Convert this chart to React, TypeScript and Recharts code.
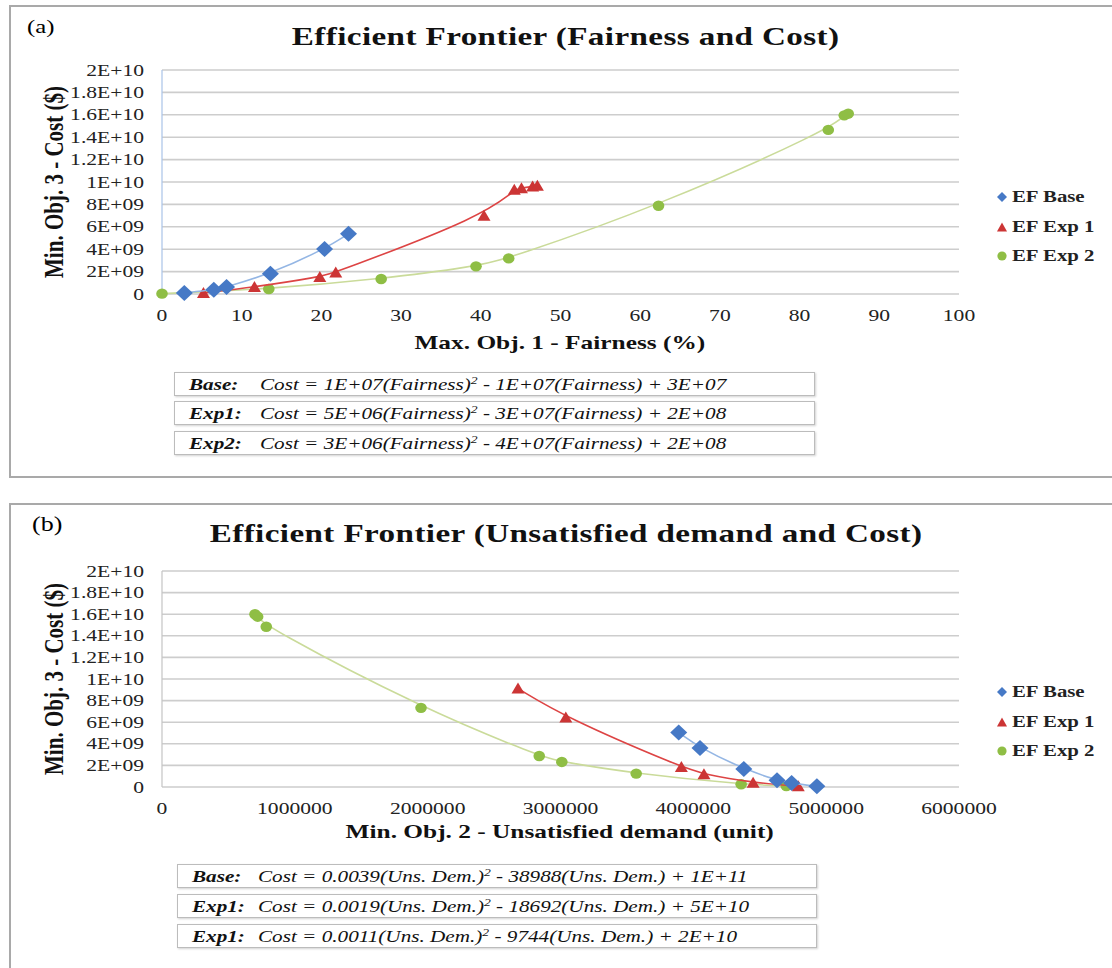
import React from "react";
import { ScatterChart, Scatter, XAxis, YAxis, CartesianGrid } from "recharts";

// ---------- DATA ----------
// (a) Fairness (%) vs Cost ($)
const baseFairness = [2.8, 6.5, 8.1, 13.6, 20.4, 23.4];
const baseFairCost = [0.09e9, 0.39e9, 0.62e9, 1.81e9, 4.01e9, 5.38e9];
const exp1Fairness = [5.2, 11.6, 19.8, 21.8, 40.4, 44.2, 45.1, 46.5, 47.1];
const exp1FairCost = [0.09e9, 0.62e9, 1.52e9, 1.93e9, 6.98e9, 9.3e9, 9.45e9, 9.6e9, 9.66e9];
const exp2Fairness = [0, 13.4, 27.5, 39.4, 43.5, 62.3, 83.6, 85.6, 86.1];
const exp2FairCost = [0.03e9, 0.45e9, 1.34e9, 2.47e9, 3.18e9, 7.88e9, 14.65e9, 15.95e9, 16.1e9];

// (b) Unsatisfied demand (unit) vs Cost ($)
const baseUnsat = [3890000, 4050000, 4380000, 4630000, 4740000, 4930000];
const baseUnsatCost = [5.04e9, 3.62e9, 1.67e9, 0.62e9, 0.37e9, 0.06e9];
const exp1Unsat = [2680000, 3040000, 3910000, 4080000, 4450000, 4790000];
const exp1UnsatCost = [9.12e9, 6.43e9, 1.85e9, 1.17e9, 0.4e9, 0.06e9];
const exp2Unsat = [700000, 720000, 785000, 1950000, 2840000, 3010000, 3570000, 4360000, 4700000];
const exp2UnsatCost = [16.0e9, 15.77e9, 14.84e9, 7.33e9, 2.87e9, 2.32e9, 1.24e9, 0.25e9, 0.09e9];

// ticks
const costTicks = [0, 2e9, 4e9, 6e9, 8e9, 1e10, 1.2e10, 1.4e10, 1.6e10, 1.8e10, 2e10];
const costTickLabels = ["0", "2E+09", "4E+09", "6E+09", "8E+09", "1E+10", "1.2E+10", "1.4E+10", "1.6E+10", "1.8E+10", "2E+10"];
const fairTicks = [0, 10, 20, 30, 40, 50, 60, 70, 80, 90, 100];
const fairTickLabels = ["0", "10", "20", "30", "40", "50", "60", "70", "80", "90", "100"];
const unsatTicks = [0, 1000000, 2000000, 3000000, 4000000, 5000000, 6000000];
const unsatTickLabels = ["0", "1000000", "2000000", "3000000", "4000000", "5000000", "6000000"];

const seriesNames = ["EF Base", "EF Exp 1", "EF Exp 2"];

const fairEquations = [
  { label: "Base:", text: "Cost = 1E+07(Fairness)", rest: " - 1E+07(Fairness) + 3E+07" },
  { label: "Exp1:", text: "Cost = 5E+06(Fairness)", rest: " - 3E+07(Fairness) + 2E+08" },
  { label: "Exp2:", text: "Cost = 3E+06(Fairness)", rest: " - 4E+07(Fairness) + 2E+08" },
];
const unsatEquations = [
  { label: "Base:", text: "Cost = 0.0039(Uns. Dem.)", rest: " - 38988(Uns. Dem.) + 1E+11" },
  { label: "Exp1:", text: "Cost = 0.0019(Uns. Dem.)", rest: " - 18692(Uns. Dem.) + 5E+10" },
  { label: "Exp1:", text: "Cost = 0.0011(Uns. Dem.)", rest: " -  9744(Uns. Dem.) + 2E+10" },
];

// ---------- STYLE ----------
const FONT = '"Liberation Serif", "Times New Roman", Times, serif';
const S = 1.3; // horizontal stretch of text in the reference
const BLUE = "#4679C6";
const RED = "#CC3535";
const GREEN = "#8FBE45";
const BLUE_T = "#94B6E4";
const RED_T = "#DD4444";
const GREEN_T = "#CADB9A";

const zip = (xs: number[], ys: number[]) => xs.map((x, i) => ({ x, y: ys[i] }));

const Diamond = (p: any) => {
  const { cx, cy } = p;
  if (cx == null || cy == null) return null;
  return <path d={`M${cx},${cy - 8} L${cx + 8.5},${cy} L${cx},${cy + 8} L${cx - 8.5},${cy} Z`} fill={BLUE} />;
};
const Triangle = (p: any) => {
  const { cx, cy } = p;
  if (cx == null || cy == null) return null;
  return <path d={`M${cx},${cy - 6} L${cx + 6.5},${cy + 5} L${cx - 6.5},${cy + 5} Z`} fill={RED} />;
};
const Dot = (p: any) => {
  const { cx, cy } = p;
  if (cx == null || cy == null) return null;
  return <ellipse cx={cx} cy={cy} rx={5.8} ry={5.2} fill={GREEN} />;
};

const makeYTick = () => (p: any) => {
  const { x, y, payload } = p;
  const i = costTicks.indexOf(payload.value);
  return (
    <text transform={`translate(${x},${y}) scale(${S},1)`} textAnchor="end" dominantBaseline="central" fontSize={16.6} fontFamily={FONT} fill="#222">
      {i >= 0 ? costTickLabels[i] : ""}
    </text>
  );
};
const makeXTick = (ticks: number[], labels: string[]) => (p: any) => {
  const { x, y, payload } = p;
  const i = ticks.indexOf(payload.value);
  return (
    <text transform={`translate(${x},${y + 21}) scale(${S},1)`} textAnchor="middle" dominantBaseline="central" fontSize={16.6} fontFamily={FONT} fill="#222">
      {i >= 0 ? labels[i] : ""}
    </text>
  );
};

const stretch = (origin: string): React.CSSProperties => ({
  display: "inline-block",
  transform: `scaleX(${S})`,
  transformOrigin: origin,
  whiteSpace: "nowrap",
});

function Legend({ top }: { top: number }) {
  const rows = [
    { name: seriesNames[0], m: <path d="M6,1 L11,6 L6,11 L1,6 Z" fill={BLUE} /> },
    { name: seriesNames[1], m: <path d="M6,1.5 L11,10.5 L1,10.5 Z" fill={RED} /> },
    { name: seriesNames[2], m: <circle cx={6} cy={6} r={4.6} fill={GREEN} /> },
  ];
  return (
    <>
      {rows.map((r, i) => (
        <div key={i} style={{ position: "absolute", left: 996, top: top + i * 29.7 - 11, height: 22, display: "flex", alignItems: "center" }}>
          <svg width={12} height={12} style={{ marginRight: 4 }}>{r.m}</svg>
          <span style={{ ...stretch("left center"), fontFamily: FONT, fontSize: 16, fontWeight: "bold", color: "#222" }}>{r.name}</span>
        </div>
      ))}
    </>
  );
}

function Equations({ eqs, left, width, tops, labelLeft, textLeft }: any) {
  return (
    <>
      {eqs.map((e: any, i: number) => (
        <div
          key={i}
          style={{
            position: "absolute",
            left,
            top: tops[i],
            width,
            height: 24,
            border: "1.5px solid #bcbcbc",
            boxShadow: "1px 1px 2px rgba(0,0,0,0.18)",
            background: "#fff",
            fontFamily: FONT,
            fontSize: 16.3,
            fontStyle: "italic",
            color: "#111",
            boxSizing: "border-box",
          }}
        >
          <span style={{ ...stretch("left center"), position: "absolute", left: labelLeft, top: 1.5, fontWeight: "bold" }}>{e.label}</span>
          <span style={{ ...stretch("left center"), position: "absolute", left: textLeft, top: 1.5 }}>
            {e.text}
            <sup style={{ fontSize: 10.5, verticalAlign: "6px", lineHeight: 0 }}>2</sup>
            {e.rest}
          </span>
        </div>
      ))}
    </>
  );
}

function Panel(props: any) {
  const { top, frameTop, frameHeight, letter, letterLeft, letterTop, letterSize, title, titleY, xTitle, xTitleY, yTitleY, plotTop, plotBottom, chartHeight,
    xDomain, xTicks, xLabels, data, legendTop, axisColor } = props;
  const plotLeft = 162;
  const plotRight = 959;
  const yAxisW = 70;
  const xAxisH = 30;
  return (
    <>
      <div style={{ position: "absolute", left: 9, top: frameTop, width: 1200, height: frameHeight, border: "2px solid #a9a9a9", boxSizing: "border-box" }} />
      <div style={{ position: "absolute", left: 0, top, width: 1112, height: chartHeight }}>
        <ScatterChart
          width={1112}
          height={chartHeight}
          margin={{ top: plotTop, right: 1112 - plotRight, bottom: chartHeight - plotBottom - xAxisH, left: plotLeft - yAxisW }}
        >
          <CartesianGrid vertical={false} stroke="#cdcdcd" strokeWidth={1.6} />
          <XAxis
            type="number"
            dataKey="x"
            domain={xDomain}
            ticks={xTicks}
            axisLine={false}
            tickLine={false}
            tickSize={0}
            tickMargin={0}
            height={xAxisH}
            interval={0}
            tick={makeXTick(xTicks, xLabels)}
          />
          <YAxis
            type="number"
            dataKey="y"
            domain={[0, 2e10]}
            ticks={costTicks}
            width={yAxisW}
            axisLine={{ stroke: axisColor, strokeWidth: 1.2 }}
            tickLine={false}
            tickSize={0}
            tickMargin={18}
            interval={0}
            tick={makeYTick()}
          />
          <Scatter name={seriesNames[2]} data={data[2]} isAnimationActive={false} line={{ stroke: GREEN_T, strokeWidth: 1.6 }} lineJointType="basis" shape={Dot} />
          <Scatter name={seriesNames[1]} data={data[1]} isAnimationActive={false} line={{ stroke: RED_T, strokeWidth: 1.6 }} lineJointType="basis" shape={Triangle} />
          <Scatter name={seriesNames[0]} data={data[0]} isAnimationActive={false} line={{ stroke: BLUE_T, strokeWidth: 1.6 }} lineJointType="basis" shape={Diamond} />
        </ScatterChart>
      </div>
      <div style={{ position: "absolute", left: letterLeft, top: letterTop, fontFamily: FONT, fontSize: letterSize }}>
        <span style={stretch("left center")}>{letter}</span>
      </div>
      <div style={{ position: "absolute", left: 0, width: 1132, top: titleY - 18, height: 36, display: "flex", justifyContent: "center", alignItems: "center" }}>
        <span style={{ ...stretch("center"), fontFamily: FONT, fontSize: 25.5, fontWeight: "bold", color: "#111", letterSpacing: 0.3 }}>{title}</span>
      </div>
      <div style={{ position: "absolute", left: 0, width: 1119, top: xTitleY - 13, height: 26, display: "flex", justifyContent: "center", alignItems: "center" }}>
        <span style={{ ...stretch("center"), fontFamily: FONT, fontSize: 19.5, fontWeight: "bold", color: "#111" }}>{xTitle}</span>
      </div>
      <div style={{ position: "absolute", left: 54 - 150, top: yTitleY - 14, width: 300, height: 28, display: "flex", justifyContent: "center", alignItems: "center", transform: `scaleX(${S}) rotate(-90deg)` }}>
        <span style={{ fontFamily: FONT, fontSize: 21, fontWeight: "bold", color: "#111", whiteSpace: "nowrap" }}>Min. Obj. 3 - Cost ($)</span>
      </div>
      <Legend top={legendTop} />
    </>
  );
}

export default function App() {
  const fairData = [zip(baseFairness, baseFairCost), zip(exp1Fairness, exp1FairCost), zip(exp2Fairness, exp2FairCost)];
  const unsatData = [zip(baseUnsat, baseUnsatCost), zip(exp1Unsat, exp1UnsatCost), zip(exp2Unsat, exp2UnsatCost)];
  return (
    <div style={{ position: "absolute", left: 0, top: 0, width: 1112, height: 968, overflow: "hidden", background: "#fff" }}>
      <Panel
        top={0}
        frameTop={5}
        frameHeight={473}
        letter="(a)"
        letterLeft={27}
        letterTop={16}
        letterSize={19}
        title="Efficient Frontier (Fairness and Cost)"
        titleY={37}
        xTitle="Max. Obj. 1 - Fairness (%)"
        xTitleY={343}
        yTitleY={182}
        plotTop={70}
        plotBottom={294}
        chartHeight={480}
        xDomain={[0, 100]}
        xTicks={fairTicks}
        xLabels={fairTickLabels}
        data={fairData}
        legendTop={197}
        axisColor="#a9c3e8"
      />
      <Equations eqs={fairEquations} left={174} width={641} tops={[372, 401, 431]} labelLeft={14} textLeft={85} />
      <Panel
        top={490}
        frameTop={503}
        frameHeight={600}
        letter="(b)"
        letterLeft={32}
        letterTop={513}
        letterSize={20}
        title="Efficient Frontier (Unsatisfied demand and Cost)"
        titleY={534}
        xTitle="Min. Obj. 2 - Unsatisfied demand (unit)"
        xTitleY={832}
        yTitleY={679}
        plotTop={81}
        plotBottom={297}
        chartHeight={478}
        xDomain={[0, 6000000]}
        xTicks={unsatTicks}
        xLabels={unsatTickLabels}
        data={unsatData}
        legendTop={692}
        axisColor="#c4c4c4"
      />
      <Equations eqs={unsatEquations} left={177} width={640} tops={[864, 894, 924]} labelLeft={14} textLeft={80} />
    </div>
  );
}
